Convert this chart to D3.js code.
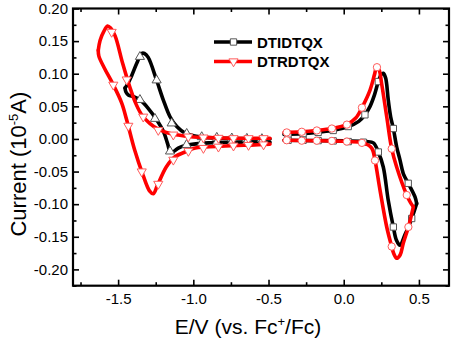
<!DOCTYPE html>
<html>
<head>
<meta charset="utf-8">
<script src="https://cdn.jsdelivr.net/npm/d3@7"></script>
<style>
  body { margin: 0; background: #fff; overflow: hidden; }
  svg { display: block; font-family: "Liberation Sans", Arial, sans-serif; }
</style>
</head>
<body>
<div id="chart"></div>
<script>
// Series names (legend)
const seriesNames = ['DTIDTQX', 'DTRDTQX'];

// Tick values
const xMajor = [-1.5, -1.0, -0.5, 0.0, 0.5];
const xMinor = [-1.75, -1.25, -0.75, -0.25, 0.25];
const yMajor = [-0.20, -0.15, -0.10, -0.05, 0.00, 0.05, 0.10, 0.15, 0.20];
const yMinor = [-0.225, -0.175, -0.125, -0.075, -0.025, 0.025, 0.075, 0.125, 0.175];

// DTIDTQX (black), reduction loop: [E, I]
const blackLeftFwd = [[-0.49, 0.0], [-0.7, 0.0005], [-0.9, 0.002], [-1.0, 0.005], [-1.055, 0.009],
  [-1.11, 0.019], [-1.155, 0.034], [-1.20, 0.060], [-1.244, 0.090], [-1.30, 0.125], [-1.325, 0.131],
  [-1.343, 0.131], [-1.376, 0.116], [-1.41, 0.097], [-1.44, 0.083], [-1.454, 0.078]];
const blackLeftRev = [[-1.454, 0.078], [-1.448, 0.072], [-1.43, 0.067], [-1.40, 0.065], [-1.355, 0.060],
  [-1.30, 0.047], [-1.243, 0.029], [-1.20, 0.012], [-1.17, -0.008], [-1.155, -0.019], [-1.13, -0.019],
  [-1.10, -0.014], [-1.055, -0.010], [-0.9, -0.006], [-0.7, -0.005], [-0.49, -0.005]];
// DTIDTQX (black), oxidation loop
const blackRightFwd = [[-0.397, 0.007], [-0.28, 0.008], [-0.18, 0.010], [-0.08, 0.013], [0.03, 0.019],
  [0.1, 0.027], [0.141, 0.037], [0.175, 0.050], [0.205, 0.068], [0.230, 0.088], [0.25, 0.099],
  [0.263, 0.1006], [0.278, 0.094], [0.285, 0.085], [0.296, 0.060], [0.312, 0.034], [0.330, 0.016],
  [0.352, -0.012], [0.374, -0.032], [0.396, -0.053], [0.429, -0.068], [0.474, -0.089], [0.485, -0.099]];
const blackRightRev = [[0.485, -0.099], [0.452, -0.122], [0.407, -0.147], [0.374, -0.163], [0.35, -0.155],
  [0.330, -0.135], [0.296, -0.094], [0.263, -0.043], [0.230, -0.020], [0.197, -0.006], [0.15, -0.004],
  [0.0, -0.003], [-0.2, -0.0025], [-0.397, -0.002]];

// DTRDTQX (red), reduction loop
const redLeftFwd = [[-0.49, 0.001], [-0.6, 0.001], [-0.75, 0.0012], [-0.9, 0.002], [-1.0, 0.003],
  [-1.1, 0.006], [-1.18, 0.010], [-1.24, 0.016], [-1.29, 0.024], [-1.34, 0.036], [-1.38, 0.053],
  [-1.42, 0.078], [-1.47, 0.116], [-1.52, 0.158], [-1.55, 0.170], [-1.57, 0.173], [-1.595, 0.165],
  [-1.62, 0.151], [-1.632, 0.136]];
const redLeftRev = [[-1.632, 0.136], [-1.628, 0.127], [-1.59, 0.108], [-1.532, 0.083], [-1.476, 0.055],
  [-1.443, 0.029], [-1.39, -0.017], [-1.335, -0.055], [-1.29, -0.080], [-1.266, -0.084], [-1.24, -0.072],
  [-1.18, -0.043], [-1.12, -0.027], [-1.055, -0.020], [-1.0, -0.0145], [-0.89, -0.012], [-0.75, -0.0105],
  [-0.62, -0.0094], [-0.49, -0.008]];
// DTRDTQX (red), oxidation loop
const redRightFwd = [[-0.397, 0.010], [-0.28, 0.011], [-0.18, 0.013], [-0.08, 0.016], [0.02, 0.022],
  [0.08, 0.032], [0.121, 0.048], [0.175, 0.075], [0.205, 0.099], [0.219, 0.110], [0.235, 0.106],
  [0.252, 0.085], [0.286, 0.034], [0.319, -0.015], [0.352, -0.043], [0.419, -0.086], [0.445, -0.098],
  [0.463, -0.104]];
const redRightRev = [[0.463, -0.104], [0.43, -0.135], [0.396, -0.160], [0.375, -0.178], [0.352, -0.183],
  [0.333, -0.176], [0.319, -0.165], [0.286, -0.135], [0.241, -0.078], [0.208, -0.033], [0.186, -0.014],
  [0.13, -0.006], [0.02, -0.004], [-0.18, -0.0027], [-0.397, -0.002]];

// Marker positions
const blackLeftMarkers = [[-1.355, 0.126], [-1.244, 0.090], [-1.144, 0.024], [-1.044, 0.008], [-0.944, 0.003],
  [-0.844, 0.002], [-0.744, 0.001], [-0.644, 0.0005], [-0.544, 0.0],
  [-1.355, 0.060], [-1.255, 0.031], [-1.155, -0.019], [-1.045, -0.009], [-0.945, -0.0065],
  [-0.845, -0.0058], [-0.745, -0.0053], [-0.645, -0.005], [-0.545, -0.005]];
const blackRightMarkers = [[-0.37, 0.007], [-0.27, 0.008], [-0.17, 0.010], [-0.07, 0.013], [0.03, 0.019],
  [0.141, 0.037], [0.230, 0.088], [0.330, 0.016], [0.429, -0.068],
  [0.452, -0.122], [0.330, -0.135], [0.230, -0.020], [0.13, -0.005], [0.03, -0.004], [-0.07, -0.003],
  [-0.17, -0.0025], [-0.27, -0.002], [-0.37, -0.002]];
const redLeftMarkers = [[-1.543, 0.164], [-1.443, 0.091], [-1.333, 0.034], [-1.233, 0.0136], [-1.133, 0.0065],
  [-1.033, 0.0035], [-0.933, 0.002], [-0.833, 0.0015], [-0.733, 0.001], [-0.633, 0.001], [-0.533, 0.001],
  [-1.532, 0.083], [-1.432, 0.020], [-1.343, -0.050], [-1.233, -0.069], [-1.133, -0.032], [-1.033, -0.0185],
  [-0.933, -0.014], [-0.833, -0.012], [-0.733, -0.0104], [-0.633, -0.0094], [-0.533, -0.0086]];
const redRightMarkers = [[-0.379, 0.010], [-0.279, 0.011], [-0.179, 0.013], [-0.079, 0.016], [0.021, 0.022],
  [0.121, 0.048], [0.221, 0.110], [0.319, -0.015], [0.419, -0.086],
  [0.43, -0.135], [0.319, -0.165], [0.208, -0.033], [0.121, -0.006], [0.021, -0.004], [-0.079, -0.003],
  [-0.179, -0.0027], [-0.279, -0.0027], [-0.379, -0.002]];

// Size of the picture
const width = 454;
const height = 342;
const margin = { top: 8.5, right: 5, bottom: 56.3, left: 73 };
const innerWidth = width - margin.left - margin.right;
const innerHeight = height - margin.top - margin.bottom;

const svg = d3.select('#chart')
  .append('svg')
  .attr('width', width)
  .attr('height', height);

const chart = svg.append('g')
  .attr('transform', `translate(${margin.left}, ${margin.top})`);

const xScale = d3.scaleLinear().domain([-1.8, 0.7]).range([0, innerWidth]);
const yScale = d3.scaleLinear().domain([-0.225, 0.2]).range([innerHeight, 0]);

const fmt = f => d => d3.format(f)(d).replace('\u2212', '-');

// Axes: ticks point inwards on all four sides
function drawAxis(axisFn, scale, values, size, transform, labels, pad) {
  const g = chart.append('g')
    .attr('transform', transform)
    .call(axisFn(scale).tickValues(values).tickSize(-size).tickPadding(pad)
      .tickFormat(labels || ''));
  // drop d3's own font attributes so the labels use the page font
  g.attr('font-family', null).attr('font-size', null);
  g.select('.domain').remove();
  g.selectAll('line').attr('stroke', '#000').attr('stroke-width', 1.6);
  if (labels) {
    g.selectAll('text').attr('fill', '#000').style('font-size', '15px');
  } else {
    g.selectAll('text').remove();
  }
  return g;
}

drawAxis(d3.axisBottom, xScale, xMajor, 6, `translate(0, ${innerHeight})`, fmt('.1f'), 8);
drawAxis(d3.axisBottom, xScale, xMinor, 3.5, `translate(0, ${innerHeight})`, null, 8);
drawAxis(d3.axisTop, xScale, xMajor, 6, 'translate(0, 0)', null, 3);
drawAxis(d3.axisTop, xScale, xMinor, 3.5, 'translate(0, 0)', null, 3);
drawAxis(d3.axisLeft, yScale, yMajor, 6, 'translate(0, 0)', fmt('.2f'), 5);
drawAxis(d3.axisLeft, yScale, yMinor, 3.5, 'translate(0, 0)', null, 5);
drawAxis(d3.axisRight, yScale, yMajor, 6, `translate(${innerWidth}, 0)`, null, 3);
drawAxis(d3.axisRight, yScale, yMinor, 3.5, `translate(${innerWidth}, 0)`, null, 3);

// Frame
chart.append('rect')
  .attr('x', 0).attr('y', 0)
  .attr('width', innerWidth).attr('height', innerHeight)
  .attr('fill', 'none')
  .attr('stroke', '#000')
  .attr('stroke-width', 2.2);

const line = d3.line()
  .x(d => xScale(d[0]))
  .y(d => yScale(d[1]))
  .curve(d3.curveCatmullRom.alpha(0.5));

const markerPath = {
  up: d3.symbol(d3.symbolTriangle, 36)(),
  square: d3.symbol(d3.symbolSquare, 40)(),
  circle: d3.symbol(d3.symbolCircle, 42)()
};

function drawBranch(data, color) {
  chart.append('path')
    .datum(data)
    .attr('d', line)
    .attr('fill', 'none')
    .attr('stroke', color)
    .attr('stroke-width', 3.6)
    .attr('stroke-linejoin', 'round')
    .attr('stroke-linecap', 'round');
}

function drawMarkers(data, shape, stroke, rotate) {
  chart.selectAll(null)
    .data(data)
    .enter()
    .append('path')
    .attr('d', markerPath[shape])
    .attr('transform', d => `translate(${xScale(d[0])}, ${yScale(d[1])})${rotate ? ' rotate(180)' : ''}`)
    .attr('fill', '#fff')
    .attr('stroke', stroke)
    .attr('stroke-width', 1);
}

// DTIDTQX first, DTRDTQX drawn on top
[blackLeftFwd, blackLeftRev, blackRightFwd, blackRightRev].forEach(d => drawBranch(d, '#000'));
drawMarkers(blackLeftMarkers, 'up', '#555', false);
drawMarkers(blackRightMarkers, 'square', '#555', false);

[redLeftFwd, redLeftRev, redRightFwd, redRightRev].forEach(d => drawBranch(d, '#ff0000'));
drawMarkers(redLeftMarkers, 'up', '#ff5a5a', true);
drawMarkers(redRightMarkers, 'circle', '#ff5a5a', false);

// Legend
const legend = chart.append('g').attr('transform', 'translate(141, 33.5)');
const legendStyle = [
  { color: '#000', mark: 'square', stroke: '#555', rotate: false },
  { color: '#ff0000', mark: 'up', stroke: '#ff5a5a', rotate: true }
];
seriesNames.forEach((name, i) => {
  const row = legend.append('g').attr('transform', `translate(0, ${i * 19.5})`);
  row.append('line')
    .attr('x1', 0).attr('x2', 38)
    .attr('stroke', legendStyle[i].color)
    .attr('stroke-width', 3.6);
  row.append('path')
    .attr('d', markerPath[legendStyle[i].mark])
    .attr('transform', `translate(19.5, 0)${legendStyle[i].rotate ? ' rotate(180)' : ''}`)
    .attr('fill', '#fff')
    .attr('stroke', legendStyle[i].stroke);
  row.append('text')
    .attr('x', 43)
    .attr('y', 5.5)
    .style('font-size', '15px')
    .style('font-weight', 'bold')
    .text(name);
});

// Axis titles: pieces laid out side by side, the superscript raised and smaller
function drawTitle(transform, parts) {
  const g = svg.append('g').attr('transform', transform);
  const nodes = parts.map(p => g.append('text')
    .attr('y', p.sup ? -8 : 0)
    .style('font-size', p.sup ? '13px' : p.size)
    .text(p.text));
  const widths = nodes.map(n => n.node().getComputedTextLength());
  let x = -d3.sum(widths) / 2;
  nodes.forEach((n, i) => { n.attr('x', x); x += widths[i]; });
}

drawTitle(`translate(${margin.left + innerWidth / 2 - 13}, 334)`, [
  { text: 'E/V (vs. Fc', size: '21px' },
  { text: '+', sup: true },
  { text: '/Fc)', size: '21px' }
]);

drawTitle(`translate(25.5, ${margin.top + innerHeight / 2 + 17}) rotate(-90)`, [
  { text: 'Current (10', size: '22px' },
  { text: '-5', sup: true },
  { text: 'A)', size: '22px' }
]);
</script>
</body>
</html>
